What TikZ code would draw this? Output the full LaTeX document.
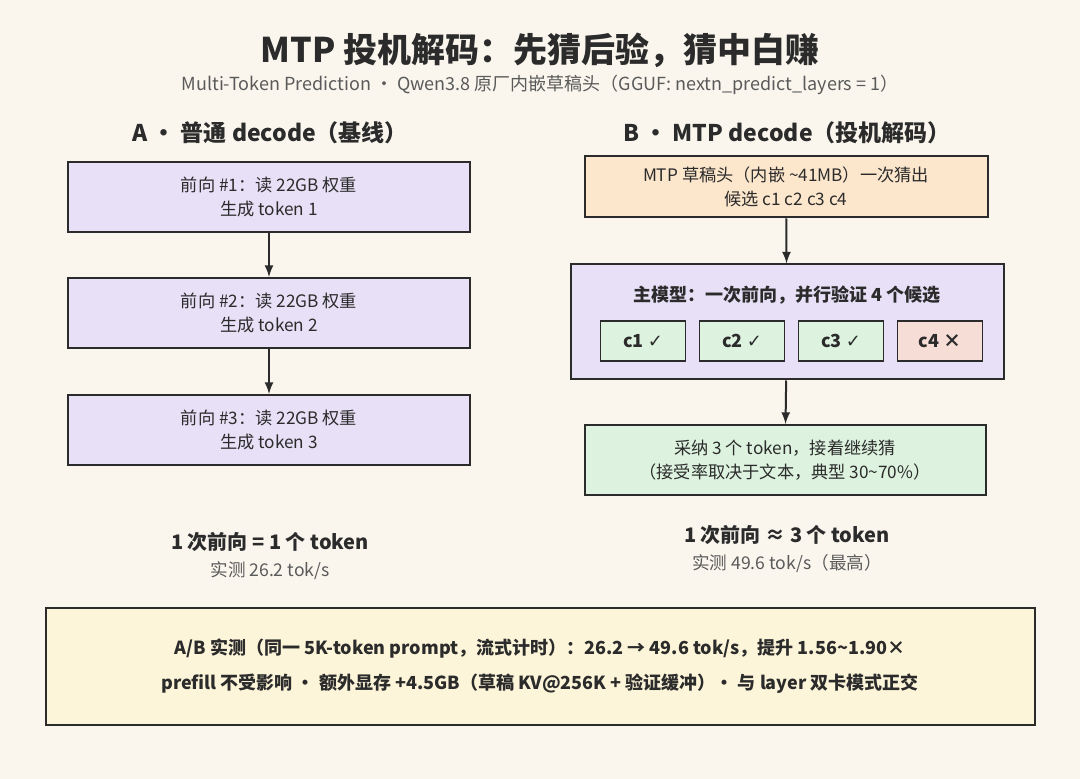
\documentclass[tikz,border=0pt]{standalone}
\usepackage{fontspec}
\setmainfont{Noto Sans CJK SC}
\newfontfamily\symfont{DejaVu Sans}
\usetikzlibrary{positioning}
\definecolor{bgcream}{HTML}{FAF6EE}
\definecolor{inkdark}{HTML}{2B2B2B}
\definecolor{inkgrey}{HTML}{5A5A5A}
\definecolor{lilac}{HTML}{E8E0F7}
\definecolor{peach}{HTML}{FCE6CC}
\definecolor{mint}{HTML}{DDF3DF}
\definecolor{rose}{HTML}{F6DDD6}
\definecolor{cream}{HTML}{FDF5D9}
\tikzset{
  stage/.style={draw=inkdark,line width=1pt,align=center,font=\fontsize{8.6}{12}\selectfont,text=inkdark},
  chip/.style={draw=inkdark,line width=0.6pt,fill=mint,minimum width=42.5pt,minimum height=20pt,font=\fontsize{9}{10}\selectfont\bfseries,text=inkdark},
  flow/.style={-latex,draw=inkdark,line width=1pt},
  head/.style={font=\fontsize{11.5}{13}\selectfont\bfseries,text=inkdark},
  sum/.style={font=\fontsize{10}{12}\selectfont\bfseries,text=inkdark},
  meas/.style={font=\fontsize{8.8}{10}\selectfont,text=inkgrey}
}
\begin{document}
\begin{tikzpicture}[x=0.5pt,y=-0.5pt]
  \fill[bgcream] (0,0) rectangle (1080,779);
  \useasboundingbox (0,0) rectangle (1080,779);
  \node[font=\fontsize{17}{19}\selectfont\bfseries,text=inkdark] (title) at (540,50) {MTP 投机解码：先猜后验，猜中白赚};
  \node[font=\fontsize{9}{10}\selectfont,text=inkgrey] (sub) at (540,85) {Multi-Token Prediction · Qwen3.8 原厂内嵌草稿头（GGUF: nextn\_predict\_layers = 1）};
  % column A
  \node[head] (ha) at (270,133) {A · 普通 decode（基线）};
  \begin{scope}[every node/.style={stage,fill=lilac,minimum width=201pt,minimum height=35pt}]
    \node (a1) at (269,197) {前向 \#1：读 22GB 权重\\生成 token 1};
    \node (a2) at (269,313) {前向 \#2：读 22GB 权重\\生成 token 2};
    \node (a3) at (269,430) {前向 \#3：读 22GB 权重\\生成 token 3};
  \end{scope}
  \draw[flow] (a1) -- (a2);
  \draw[flow] (a2) -- (a3);
  \node[sum] (sa) at (270,542) {1 次前向 = 1 个 token};
  \node[meas] (ma) at (270,571) {实测 26.2 tok/s};
  % column B
  \node[head] (hb) at (787,133) {B · MTP decode（投机解码）};
  \node[stage,fill=peach,minimum width=201.5pt,minimum height=30.5pt] (b1) at (786,187) {MTP 草稿头（内嵌 \textasciitilde41MB）一次猜出\\候选 c1 c2 c3 c4};
  \node[stage,fill=lilac,minimum width=216.5pt,minimum height=57.5pt] (b2) at (787,322) {};
  \node[font=\fontsize{9}{10}\selectfont\bfseries,text=inkdark] (b2t) at (787,295) {主模型：一次前向，并行验证 4 个候选};
  \node[chip] (c1) at (643,341) {c1 {\symfont ✓}};
  \node[chip] (c2) at (742,341) {c2 {\symfont ✓}};
  \node[chip] (c3) at (841,341) {c3 {\symfont ✓}};
  \node[chip,fill=rose] (c4) at (940,341) {c4 ×};
  \node[stage,fill=mint,minimum width=200.5pt,minimum height=35pt] (b3) at (785,460) {采纳 3 个 token，接着继续猜\\（接受率取决于文本，典型 30\textasciitilde70\%）};
  \draw[flow] (b1) -- (b2);
  \draw[flow] (b2) -- (b3);
  \node[sum] (sb) at (787,535) {1 次前向 ≈ 3 个 token};
  \node[meas] (mb) at (787,564) {实测 49.6 tok/s（最高）};
  % summary
  \node[stage,fill=cream,minimum width=494.5pt,minimum height=58.5pt,font=\fontsize{9}{17.5}\selectfont\bfseries] (note) at (540,666)
    {A/B 实测（同一 5K-token prompt，流式计时）：26.2 → 49.6 tok/s，提升 1.56\textasciitilde1.90×\\prefill 不受影响 · 额外显存 +4.5GB（草稿 KV@256K + 验证缓冲）· 与 layer 双卡模式正交};
\end{tikzpicture}
\end{document}
